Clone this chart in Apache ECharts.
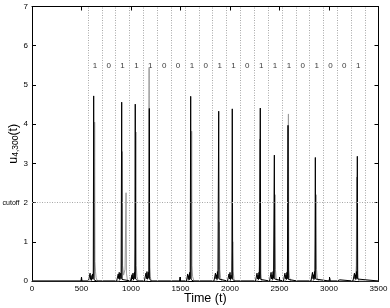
<!DOCTYPE html>
<html><head><meta charset="utf-8">
<script src="https://cdn.jsdelivr.net/npm/echarts@6/dist/echarts.min.js"></script>
<style>html,body{margin:0;padding:0;background:#fff}#c{width:390px;height:308px}</style>
</head><body><div id="c"></div>
<script>
// ---- data ----
const bitBoundaries = [565,705,845,985,1125,1265,1405,1545,1685,1825,1965,2105,2245,2385,2525,2665,2805,2945,3085,3225,3365];
const bits = [1,0,1,1,1,0,0,1,0,1,1,0,1,1,1,0,1,0,0,1];
const bitCenters = [635,775,915,1055,1195,1335,1475,1615,1755,1895,2035,2175,2315,2455,2595,2735,2875,3015,3155,3295];
const bitLabelLevel = 5.5;
const cutoff = 2;

const blackTrace = [
 [0,0],[495,0],[500,0.1],[505,0],
 [570,0],[582,0.03],[587,0.2],[591,0.04],[596,0.14],[601,0.02],[606,0.1],[611,0.18],[615,0.05],[619,0.12],[623,4.72],[627,0.03],[633,0.08],[640,0.01],[650,0],
 [855,0],[866,0.05],[871,0.18],[876,0.06],[881,0.22],[886,0.04],[891,0.12],[896,0.2],[900,0.06],[903,0.1],[906,4.56],[910,0.04],[918,0.06],[930,0],
 [995,0],[1005,0.04],[1010,0.16],[1015,0.05],[1020,0.2],[1025,0.03],[1030,0.14],[1035,0.22],[1039,0.06],[1043,4.51],[1047,0.05],[1055,0.08],[1068,0],
 [1135,0],[1146,0.05],[1151,0.2],[1156,0.06],[1161,0.24],[1166,0.05],[1171,0.15],[1176,0.22],[1181,0.07],[1185,4.40],[1189,0.04],[1196,0.07],[1210,0],
 [1270,0],[1275,0.04],[1280,0],[1400,0],[1405,0.04],[1410,0],[1490,0],[1495,0.1],[1500,0],
 [1560,0],[1568,0.05],[1573,0.18],[1578,0.04],[1583,0.14],[1588,0.03],[1593,0.22],[1598,0.06],[1603,4.71],[1607,0.04],[1615,0.06],[1628,0],
 [1838,0],[1848,0.05],[1853,0.2],[1858,0.06],[1863,0.16],[1868,0.04],[1873,0.24],[1878,0.07],[1882,0.12],[1886,4.33],[1890,0.05],[1898,0.07],[1910,0],
 [1975,0],[1985,0.04],[1990,0.18],[1995,0.05],[2000,0.22],[2005,0.04],[2010,0.15],[2015,0.2],[2019,0.06],[2023,4.39],[2027,0.04],[2035,0.06],[2048,0],
 [2108,0],[2114,0.05],[2120,0.02],[2128,0],
 [2258,0],[2268,0.05],[2273,0.2],[2278,0.05],[2283,0.15],[2288,0.04],[2293,0.22],[2298,0.06],[2302,0.1],[2306,4.41],[2310,0.04],[2318,0.06],[2330,0],
 [2400,0],[2410,0.05],[2415,0.22],[2420,0.05],[2425,0.16],[2430,0.04],[2435,0.24],[2440,0.07],[2444,0.12],[2448,3.21],[2452,0.05],[2460,0.07],[2472,0],
 [2540,0],[2550,0.05],[2555,0.2],[2560,0.06],[2565,0.15],[2570,0.04],[2575,0.22],[2580,0.06],[2583,0.1],[2586,3.97],[2590,0.04],[2598,0.06],[2610,0],
 [2680,0],[2687,0.03],[2695,0],
 [2818,0],[2828,0.05],[2833,0.22],[2838,0.06],[2843,0.16],[2848,0.04],[2853,0.24],[2858,0.07],[2862,3.15],[2866,0.05],[2874,0.07],[2886,0],
 [3000,0],[3007,0.08],[3014,0],[3080,0],[3085,0.03],[3110,0.03],[3115,0],
 [3242,0],[3252,0.05],[3257,0.2],[3262,0.06],[3267,0.16],[3272,0.04],[3277,0.24],[3282,0.07],[3286,3.18],[3290,0.05],[3298,0.07],[3310,0],
 [3500,0]
];

const grayTrace = [
 [0,0],
 [600,0],[612,0.04],[620,0.15],[626,0.35],[630,0.8],[633,4.05],[636,0.5],[641,0.25],[648,0.08],[660,0],
 [880,0],[895,0.06],[904,0.25],[909,0.7],[912,3.3],[915,0.4],[925,0.15],[940,0.3],[950,2.25],[954,0.2],[965,0],
 [1020,0],[1032,0.06],[1040,0.3],[1046,0.9],[1050,3.8],[1053,0.4],[1060,0.12],[1072,0],
 [1160,0],[1172,0.06],[1178,0.3],[1183,5.43],[1187,0.35],[1193,0.12],[1205,0],
 [1580,0],[1595,0.06],[1603,0.3],[1609,0.8],[1613,3.82],[1616,0.4],[1622,0.12],[1635,0],
 [1865,0],[1876,0.06],[1884,0.3],[1893,1.5],[1897,0.3],[1905,0.08],[1915,0],
 [2000,0],[2012,0.06],[2020,0.3],[2028,1.0],[2032,0.25],[2040,0.06],[2050,0],
 [2280,0],[2290,0.06],[2296,0.4],[2300,3.62],[2304,0.3],[2312,0.1],[2322,0],
 [2425,0],[2437,0.06],[2446,0.3],[2455,2.2],[2459,0.3],[2466,0.08],[2478,0],
 [2560,0],[2572,0.06],[2580,0.3],[2590,4.26],[2594,0.3],[2602,0.08],[2612,0],
 [2840,0],[2852,0.06],[2860,0.3],[2870,2.2],[2874,0.3],[2882,0.08],[2894,0],
 [3260,0],[3270,0.06],[3276,0.4],[3280,2.65],[3284,0.3],[3292,0.08],[3302,0],
 [3500,0]
];

// ---- chart ----
const FONT = 'Liberation Sans, Arial, sans-serif';
const chart = echarts.init(document.getElementById('c'), null, {renderer:'canvas'});
const tickStyle = {show:true, inside:true, length:4, lineStyle:{color:'#000', width:1}};
const lineAx = {show:true, onZero:false, lineStyle:{color:'#000', width:1}};

const bitData = bits.map((b,i)=>({value:[bitCenters[i], bitLabelLevel], bit:b}));

chart.setOption({
  animation:false,
  grid:{left:32, right:11.5, top:6.5, bottom:27, containLabel:false, outerBoundsMode:'none'},
  xAxis:[
    {type:'value', min:0, max:3500, interval:500, position:'bottom',
     axisLine:lineAx, axisTick:tickStyle, splitLine:{show:false},
     axisLabel:{fontSize:8, color:'#000', fontFamily:FONT, margin:4, formatter:v=>String(v)},
     name:'Time (t)', nameLocation:'middle', nameGap:11, nameMoveOverlap:false,
     nameTextStyle:{fontSize:12.5, color:'#000', fontFamily:FONT}},
    {type:'value', min:0, max:3500, interval:500, position:'top',
     axisLine:lineAx, axisTick:tickStyle, axisLabel:{show:false}, splitLine:{show:false}}
  ],
  yAxis:[
    {type:'value', min:0, max:7, interval:1, position:'left',
     axisLine:lineAx, axisTick:tickStyle, splitLine:{show:false},
     axisLabel:{fontSize:8, color:'#000', fontFamily:FONT, margin:4,
       formatter:v=> v===cutoff ? '{c|cutoff}' + v : String(v),
       rich:{c:{fontSize:7, color:'#000', fontFamily:FONT, padding:[0,4,0,0]}}},
     name:'{u|u}{s|4,300}{u|(t)}', nameLocation:'middle', nameGap:12, nameRotate:90, nameMoveOverlap:false,
     nameTextStyle:{color:'#000', fontFamily:FONT,
       rich:{u:{fontSize:12.5, fontFamily:FONT, color:'#000', verticalAlign:'bottom'},
             s:{fontSize:8.5, fontFamily:FONT, color:'#000', verticalAlign:'bottom', padding:[5,0,0,0]}}}},
    {type:'value', min:0, max:7, interval:1, position:'right',
     axisLine:lineAx, axisTick:tickStyle, axisLabel:{show:false}, splitLine:{show:false}}
  ],
  series:[
    {type:'scatter', data:bitData, symbolSize:0, silent:true,
     label:{show:true, position:'inside', formatter:p=>String(p.data.bit), fontSize:8, color:'#000', fontFamily:FONT},
     markLine:{silent:true, symbol:['none','none'], label:{show:false},
       lineStyle:{color:'#a8a8a8', type:[1,1.5], width:1},
       data: bitBoundaries.map(x=>({xAxis:x})).concat([{yAxis:cutoff}])}},
    {type:'line', data:grayTrace, showSymbol:false, symbol:'none', silent:true,
     lineStyle:{color:'#9a9a9a', width:1}},
    {type:'line', data:blackTrace, showSymbol:false, symbol:'none', silent:true,
     lineStyle:{color:'#000', width:1}}
  ]
});
</script></body></html>
